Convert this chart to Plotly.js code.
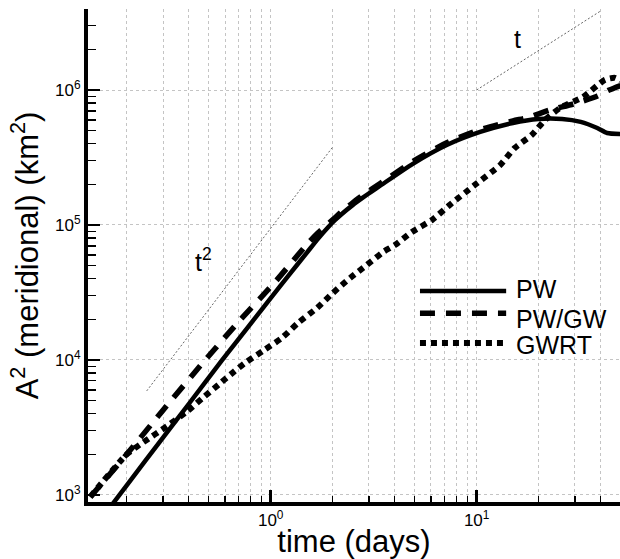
<!DOCTYPE html>
<html>
<head>
<meta charset="utf-8">
<script src="https://cdn.plot.ly/plotly-3.0.1.min.js"></script>
<style>html,body{margin:0;padding:0;background:#fff;}#chart{width:620px;height:559px;}</style>
</head>
<body>
<div id="chart"></div>
<script>
// ---- data ----
var pwT   = [0.15, 0.2, 0.3, 0.4, 0.582, 0.8, 1.0, 1.22, 1.5, 1.7, 1.9, 2.05, 2.2, 2.5, 2.8, 3.1, 3.4, 4.9, 7.2, 10.4, 15, 20, 26, 32, 38.5, 43, 50];
var pwA   = [660, 1180, 2660, 4720, 10000, 18600, 28700, 42200, 62500, 79300, 96300, 108400, 119700, 140400, 159400, 177600, 195300, 284000, 393000, 489000, 570000, 610000, 610000, 580000, 523000, 480000, 472000];

var pwgwT = [0.133, 0.2, 0.3, 0.481, 0.711, 1.05, 1.52, 1.7, 1.88, 2.05, 2.2, 2.5, 2.8, 3.4, 4.9, 7.2, 10.4, 15, 17.7, 22.6, 29.7, 38.4, 44, 50];
var pwgwA = [967, 2000, 4250, 10000, 19800, 37800, 73600, 87500, 100500, 113000, 124500, 146000, 166000, 203000, 295000, 408000, 508000, 590000, 625000, 710000, 790000, 900000, 1000000, 1080000];

var gwrtT = [0.133, 0.2, 0.24, 0.315, 0.392, 0.465, 0.561, 0.664, 0.75, 0.918, 1.135, 1.357, 1.68, 2.0, 2.43, 2.93, 3.51, 4.01, 4.85, 6.07, 7.41, 9.8, 13.0, 15.3, 18.5, 21.5, 25.4, 32.8, 42, 47, 50];
var gwrtA = [967, 2000, 2450, 3250, 4150, 5200, 6600, 8200, 9500, 11700, 14600, 18800, 24300, 31300, 40500, 50600, 63000, 71000, 88700, 109000, 141000, 198000, 278000, 372000, 464000, 600000, 736000, 887000, 1190000, 1230000, 1170000];

// guide lines t^2 and t
var guide2T = [0.25, 2];
var guide2A = [5900, 378000];
var guide1T = [10, 40];
var guide1A = [1000000, 3850000];

// tick labels
var xTickVals = [1, 10];
var xTickText = ['10<sup>0</sup>', '10<sup>1</sup>'];
var yTickVals = [1000, 10000, 100000, 1000000];
var yTickText = ['10<sup>3</sup>', '10<sup>4</sup>', '10<sup>5</sup>', '10<sup>6</sup>'];
var xMinorVals = [0.2,0.3,0.4,0.5,0.6,0.7,0.8,0.9,2,3,4,5,6,7,8,9,20,30,40];
var yMinorVals = [2000,3000,4000,5000,6000,7000,8000,9000,20000,30000,40000,50000,60000,70000,80000,90000,200000,300000,400000,500000,600000,700000,800000,900000,2000000,3000000];

var seriesNames = ['PW', 'PW/GW', 'GWRT'];
var guideLabels = ['t<sup>2</sup>', 't'];

var FONT = '"Liberation Sans", Arial, Helvetica, sans-serif';
var dashStyles = ['solid', '15px,11px', '6px,5px'];
var widths = [4.5, 5.5, 6];

var traces = [
  {x: pwT, y: pwA, name: seriesNames[0]},
  {x: pwgwT, y: pwgwA, name: seriesNames[1]},
  {x: gwrtT, y: gwrtA, name: seriesNames[2]}
].map(function (t, i) {
  return {
    x: t.x, y: t.y, name: t.name, type: 'scatter', mode: 'lines',
    line: {color: '#000', width: widths[i], dash: dashStyles[i], shape: 'spline', smoothing: 0.6},
    showlegend: false, hoverinfo: 'skip'
  };
});
traces.unshift(
  {x: guide2T, y: guide2A, type: 'scatter', mode: 'lines', line: {color: '#666', width: 1, dash: '2px,2px'}, showlegend: false, hoverinfo: 'skip'},
  {x: guide1T, y: guide1A, type: 'scatter', mode: 'lines', line: {color: '#666', width: 1, dash: '2px,2px'}, showlegend: false, hoverinfo: 'skip'}
);

// manual legend (paper coordinates)
var legX0 = 0.624, legX1 = 0.786, legTextX = 0.800;
var legLineY = [0.428, 0.383, 0.3225];
var legTextY = [0.432, 0.371, 0.318];
var shapes = [], annotations = [];
for (var i = 0; i < 3; i++) {
  shapes.push({type: 'line', xref: 'paper', yref: 'paper', x0: legX0, x1: legX1, y0: legLineY[i], y1: legLineY[i],
    line: {color: '#000', width: widths[i], dash: dashStyles[i]}});
  annotations.push({xref: 'paper', yref: 'paper', x: legTextX, y: legTextY[i], xanchor: 'left', yanchor: 'middle',
    text: seriesNames[i], showarrow: false, font: {family: FONT, size: 25, color: '#000'}});
}
annotations.push({x: Math.log10(0.474), y: Math.log10(55000), text: guideLabels[0], showarrow: false,
  font: {family: FONT, size: 25, color: '#000'}});
annotations.push({x: Math.log10(15.7), y: Math.log10(2390000), text: guideLabels[1], showarrow: false,
  font: {family: FONT, size: 25, color: '#000'}});

var gridCol = '#c4c4c4';
var layout = {
  width: 620, height: 559,
  margin: {l: 88, r: 0, t: 9, b: 57, pad: 0},
  paper_bgcolor: '#fff', plot_bgcolor: '#fff',
  font: {family: FONT, color: '#000'},
  showlegend: false,
  xaxis: {
    type: 'log', range: [-0.887, 1.696],
    tickmode: 'array', tickvals: xTickVals, ticktext: xTickText,
    ticks: 'inside', ticklen: 12, tickwidth: 2.5, tickcolor: '#000',
    showline: true, linewidth: 4, linecolor: '#000',
    showgrid: true, gridcolor: gridCol, gridwidth: 1, griddash: 'dot',
    zeroline: false,
    tickfont: {family: FONT, size: 17, color: '#000'},
    minor: {tickmode: 'array', tickvals: xMinorVals, ticks: 'inside', ticklen: 6, tickwidth: 1.2, tickcolor: '#000',
      showgrid: true, gridcolor: gridCol, gridwidth: 1, griddash: 'dot'},
    title: {text: 'time (days)', font: {family: FONT, size: 31, color: '#000'}, standoff: 4}
  },
  yaxis: {
    type: 'log', range: [2.948, 6.6],
    tickmode: 'array', tickvals: yTickVals, ticktext: yTickText,
    ticks: 'inside', ticklen: 12, tickwidth: 2.5, tickcolor: '#000',
    showline: true, linewidth: 4, linecolor: '#000',
    showgrid: true, gridcolor: gridCol, gridwidth: 1, griddash: 'dot',
    zeroline: false,
    tickfont: {family: FONT, size: 17, color: '#000'},
    minor: {tickmode: 'array', tickvals: yMinorVals, ticks: 'inside', ticklen: 8, tickwidth: 1.2, tickcolor: '#000',
      showgrid: false},
    title: {text: 'A<sup>2</sup> (meridional) (km<sup>2</sup>)', font: {family: FONT, size: 31, color: '#000'}, standoff: 8}
  },
  shapes: shapes,
  annotations: annotations
};

Plotly.newPlot('chart', traces, layout, {staticPlot: true, displayModeBar: false});
</script>
</body>
</html>
